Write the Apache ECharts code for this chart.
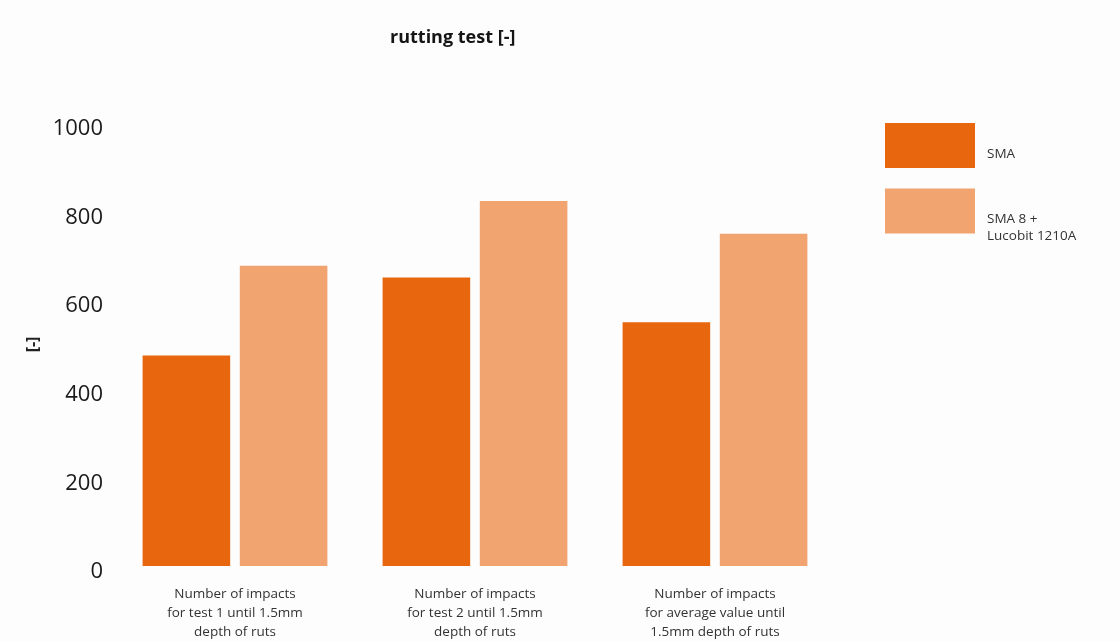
<!DOCTYPE html>
<html>
<head>
<meta charset="utf-8">
<script src="https://cdn.jsdelivr.net/npm/echarts@6/dist/echarts.min.js"></script>
<style>
  html, body { margin: 0; padding: 0; background: #fdfdfd; }
  #chart { width: 1120px; height: 642px; }
</style>
</head>
<body>
<div id="chart"></div>
<script>
// Rutting test: number of impacts until 1.5 mm rut depth
const categories = [
  'Number of impacts\nfor test 1 until 1.5mm\ndepth of ruts',
  'Number of impacts\nfor test 2 until 1.5mm\ndepth of ruts',
  'Number of impacts\nfor average value until\n1.5mm depth of ruts'
];
const seriesNames = ['SMA', 'SMA 8 +\nLucobit 1210A'];
const smaValues = [475, 651, 550];
const lucobitValues = [678, 824, 750];
const yTicks = [0, 200, 400, 600, 800, 1000];

const colors = ['#E8670E', '#F1A46F'];
const font = '"Open Sans", "Noto Sans", sans-serif';

const chart = echarts.init(document.getElementById('chart'));
chart.setOption({
  backgroundColor: '#fdfdfd',
  animation: false,
  title: {
    text: 'rutting test [-]',
    left: 385,
    top: 24,
    textStyle: { fontFamily: font, fontSize: 18, fontWeight: 'bold', color: '#151515' }
  },
  legend: {
    orient: 'vertical',
    left: 885,
    top: 123,
    padding: 0,
    itemWidth: 90,
    itemHeight: 45,
    itemGap: 9,
    icon: 'rect',
    selectedMode: false,
    // labels sit low beside their swatches, so blank lines push them down
    formatter: name => (name === seriesNames[0] ? '\n' : '\n\n') + name,
    textStyle: { fontFamily: font, fontSize: 13.5, color: '#333', lineHeight: 17, padding: [0, 0, 0, 7] },
    data: seriesNames
  },
  grid: { left: 115, right: 285, top: 123, bottom: 76, containLabel: false },
  xAxis: {
    type: 'category',
    data: categories,
    axisLine: { show: false },
    axisTick: { show: false },
    axisLabel: {
      interval: 0,
      margin: 19,
      fontFamily: font,
      fontSize: 13.5,
      lineHeight: 19,
      color: '#333',
      align: 'center'
    }
  },
  yAxis: {
    type: 'value',
    min: yTicks[0],
    max: yTicks[yTicks.length - 1],
    interval: yTicks[1] - yTicks[0],
    name: '[-]',
    nameLocation: 'middle',
    nameGap: 66,
    nameRotate: 90,
    nameTextStyle: { fontFamily: font, fontSize: 16, fontWeight: 'bold', color: '#222' },
    axisLine: { show: false },
    axisTick: { show: false },
    splitLine: { show: false },
    axisLabel: {
      margin: 12,
      fontFamily: font,
      fontSize: 22,
      color: '#1a1a1a',
      verticalAlign: 'top',
      lineHeight: 12,
      formatter: v => String(v)
    }
  },
  series: [
    {
      name: seriesNames[0],
      type: 'bar',
      data: smaValues,
      itemStyle: { color: colors[0] },
      barGap: '11%',
      barCategoryGap: '23%'
    },
    {
      name: seriesNames[1],
      type: 'bar',
      data: lucobitValues,
      itemStyle: { color: colors[1] }
    }
  ]
});
</script>
</body>
</html>
